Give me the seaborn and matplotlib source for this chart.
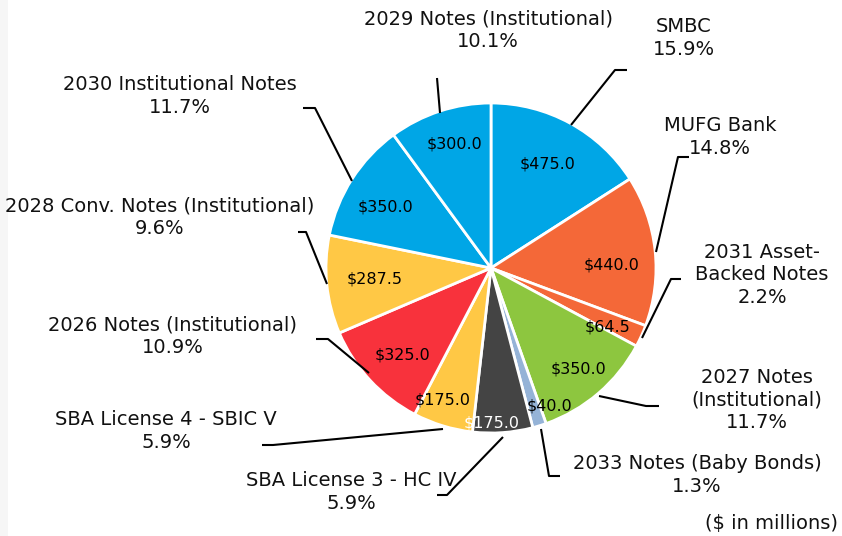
import numpy as np
import matplotlib
matplotlib.use("Agg")
import matplotlib.pyplot as plt
import seaborn as sns

sns.set_style("white")
plt.rcParams["font.family"] = ["DejaVu Sans"]

# slices, clockwise from 12 o'clock ($ in millions)
names = [
    "SMBC", "MUFG Bank", "2031 Asset-\nBacked Notes", "2027 Notes\n(Institutional)",
    "2033 Notes (Baby Bonds)", "SBA License 3 - HC IV", "SBA License 4 - SBIC V",
    "2026 Notes (Institutional)", "2028 Conv. Notes (Institutional)",
    "2030 Institutional Notes", "2029 Notes (Institutional)",
]
amounts = [475.0, 440.0, 64.5, 350.0, 40.0, 175.0, 175.0, 325.0, 287.5, 350.0, 300.0]
colors = ["#00A6E6", "#F46838", "#F46838", "#8DC63F", "#95B3D7", "#444444",
          "#FFC845", "#F8323C", "#FFC845", "#00A6E6", "#00A6E6"]

W, H = 842, 536
cx, cy, R = 491, 268, 165

fig = plt.figure(figsize=(W / 100, H / 100), dpi=100)
ax = fig.add_axes([0, 0, 1, 1])

def fy(y):
    return H - y

wedges, _ = ax.pie(amounts, colors=colors, startangle=90, counterclock=False,
                   center=(cx, fy(cy)), radius=R,
                   wedgeprops=dict(edgecolor="white", linewidth=2))
ax.set_xlim(0, W)
ax.set_ylim(0, H)
ax.set_aspect("auto")
ax.axis("off")

# faint strip on the left edge
ax.add_patch(plt.Rectangle((0, 0), 8, H, color="#F6F6F6", lw=0, zorder=0))

total = sum(amounts)

# value labels inside the wedges: radius fraction and angular nudge (deg, clockwise)
inner_r = [0.72, 0.73, 0.79, 0.81, 0.91, 0.94, 0.85, 0.75, 0.71, 0.74, 0.78]
nudge = [0, 4.7, 2.5, 0, -6, 4, 3, -1.6, 0.5, -2.7, 1.8]
for w, v, f, d, c in zip(wedges, amounts, inner_r, nudge, colors):
    th = np.deg2rad((w.theta1 + w.theta2) / 2 - d)
    x = cx + f * R * np.cos(th)
    y = fy(cy) + f * R * np.sin(th)
    tc = "white" if c == "#444444" else "black"
    ax.text(x, y, f"${v:.1f}", ha="center", va="center", fontsize=11.5, color=tc)

# outer labels: centre of text block (pixel coords)
label_pos = [(684, 38), (720, 137), (762, 275), (757, 400), (697, 475), (351, 492),
             (166, 431), (173, 336), (160, 217), (180, 96), (488, 30)]
for name, v, (x, y) in zip(names, amounts, label_pos):
    ax.text(x, fy(y), f"{name}\n{v / total * 100:.1f}%", ha="center", va="center",
            fontsize=14, linespacing=1.22, color="#111111")

# leader lines (pixel coords)
leaders = [
    [(571, 125), (615, 70), (627, 70)],
    [(656, 252), (678, 157), (689, 157)],
    [(642, 338), (671, 279), (681, 279)],
    [(599, 396), (646, 406), (659, 406)],
    [(541, 429), (549, 476), (560, 476)],
    [(503, 437), (447, 495), (437, 495)],
    [(443, 429), (273, 445), (262, 445)],
    [(369, 373), (328, 339), (316, 339)],
    [(327, 284), (306, 232), (298, 232)],
    [(352, 181), (315, 108), (303, 108)],
    [(440, 113), (437, 78)],
]
for pts in leaders:
    xs = [p[0] for p in pts]
    ys = [fy(p[1]) for p in pts]
    ax.plot(xs, ys, color="black", lw=1.5, solid_capstyle="butt")

ax.text(838, fy(523), "($ in millions)", ha="right", va="center", fontsize=14,
        color="#111111")

fig.savefig("out.png", dpi=100)
